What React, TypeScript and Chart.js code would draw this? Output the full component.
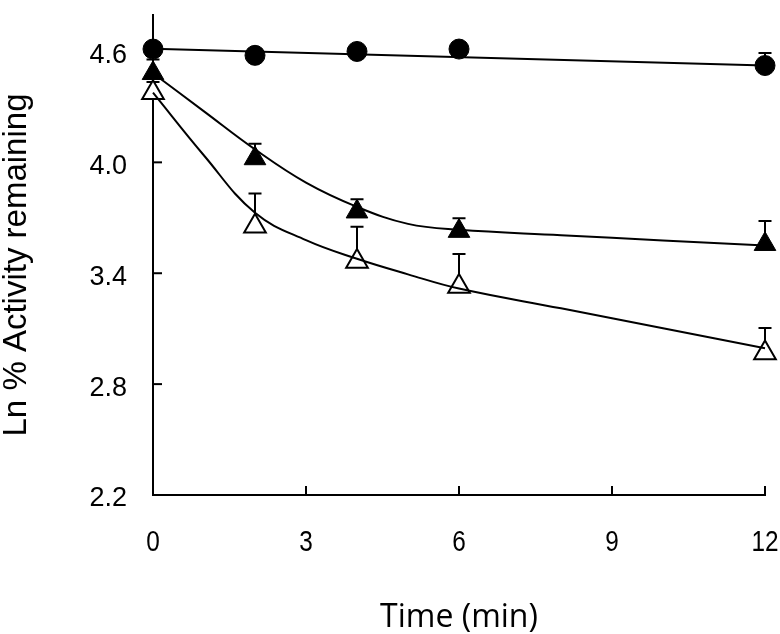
import React, { useEffect, useRef } from "react";
import { Chart, registerables } from "chart.js";

Chart.register(...registerables);

// ---- data ----
const timePoints = [0, 2, 4, 6, 12];

const controlMean = [4.613, 4.579, 4.6, 4.613, 4.524];
const controlErr = [0, 0, 0, 0, 0.067];

const filledMean = [4.482, 4.021, 3.733, 3.628, 3.557];
const filledErr = [0.074, 0.079, 0.067, 0.07, 0.126];

const openMean = [4.377, 3.654, 3.463, 3.328, 2.969];
const openErr = [0.058, 0.178, 0.189, 0.176, 0.135];

// fitted curves
const controlFitTime = [0, 12];
const controlFit = [4.615, 4.524];

const fitTime = [0, 1, 2, 3, 4, 5, 6, 8, 10, 12];
const filledFit = [4.482, 4.276, 4.07, 3.89, 3.759, 3.667, 3.635, 3.606, 3.577, 3.55];
const openFit = [4.377, 4.037, 3.727, 3.579, 3.478, 3.394, 3.317, 3.21, 3.102, 2.994];

const xTicks = [0, 3, 6, 9, 12];
const yTicks = [2.2, 2.8, 3.4, 4.0, 4.6];
const xTitle = "Time (min)";
const yTitle = "Ln % Activity remaining";

const toPoints = (xs: number[], ys: number[]) => xs.map((x, i) => ({ x, y: ys[i] }));

const errorBarPlugin = {
  id: "errorBars",
  beforeDatasetsDraw(chart: any) {
    const ctx = chart.ctx;
    const xs = chart.scales.x;
    const ys = chart.scales.y;
    ctx.save();
    ctx.strokeStyle = "#000";
    ctx.lineWidth = 2;
    chart.data.datasets.forEach((ds: any) => {
      if (!ds.errors) return;
      ds.data.forEach((p: any, i: number) => {
        const e = ds.errors[i];
        if (!e) return;
        const px = xs.getPixelForValue(p.x);
        const y0 = ys.getPixelForValue(p.y);
        const y1 = ys.getPixelForValue(p.y + e);
        ctx.beginPath();
        ctx.moveTo(px, y0);
        ctx.lineTo(px, y1);
        ctx.moveTo(px - 6.5, y1);
        ctx.lineTo(px + 6.5, y1);
        ctx.stroke();
      });
    });
    ctx.restore();
  },
};

const decorPlugin = {
  id: "decor",
  afterDraw(chart: any) {
    const ctx = chart.ctx;
    const xs = chart.scales.x;
    const ys = chart.scales.y;
    const area = chart.chartArea;
    ctx.save();
    ctx.strokeStyle = "#000";
    ctx.lineWidth = 2;
    // inward tick marks
    xTicks.forEach((v) => {
      const px = xs.getPixelForValue(v);
      ctx.beginPath();
      ctx.moveTo(px, area.bottom);
      ctx.lineTo(px, area.bottom - 9);
      ctx.stroke();
    });
    yTicks.forEach((v) => {
      const py = ys.getPixelForValue(v);
      ctx.beginPath();
      ctx.moveTo(area.left, py);
      ctx.lineTo(area.left + 9, py);
      ctx.stroke();
    });
    ctx.fillStyle = "#000";
    // x tick labels (condensed digits)
    ctx.font = '29px "Liberation Sans", Arial, sans-serif';
    ctx.textAlign = "center";
    ctx.textBaseline = "alphabetic";
    xTicks.forEach((v) => {
      const px = xs.getPixelForValue(v);
      ctx.save();
      ctx.translate(px, 551);
      ctx.scale(0.84, 1);
      ctx.fillText(String(v), 0, 0);
      ctx.restore();
    });
    // axis titles
    ctx.font = '32px "Open Sans", sans-serif';
    ctx.fillText(xTitle, (area.left + area.right) / 2, 627);
    ctx.translate(17, 265);
    ctx.rotate(-Math.PI / 2);
    ctx.font = '33px "Liberation Sans", Arial, sans-serif';
    ctx.textBaseline = "middle";
    ctx.fillText(yTitle, 0, 0);
    ctx.restore();
  },
};

const zeroPad = (scale: any) => {
  scale.paddingTop = 0;
  scale.paddingBottom = 0;
  scale.paddingLeft = 0;
  scale.paddingRight = 0;
};

export default function App() {
  const canvasRef = useRef<HTMLCanvasElement | null>(null);

  useEffect(() => {
    const canvas = canvasRef.current;
    if (!canvas) return;
    const lineBase = {
      showLine: true,
      borderColor: "#000",
      borderWidth: 2,
      pointRadius: 0,
      tension: 0.4,
      order: 0,
      clip: false,
    };
    const chart = new Chart(canvas, {
      type: "scatter",
      data: {
        datasets: [
          { ...lineBase, label: "control fit", data: toPoints(controlFitTime, controlFit), tension: 0 },
          { ...lineBase, label: "filled fit", data: toPoints(fitTime, filledFit) },
          { ...lineBase, label: "open fit", data: toPoints(fitTime, openFit) },
          {
            label: "control",
            data: toPoints(timePoints, controlMean),
            errors: controlErr,
            pointStyle: "circle",
            pointRadius: 10,
            backgroundColor: "#000",
            borderColor: "#000",
            borderWidth: 1,
            order: 1,
            clip: false,
          } as any,
          {
            label: "filled",
            data: toPoints(timePoints, filledMean),
            errors: filledErr,
            pointStyle: "triangle",
            pointRadius: 12.5,
            backgroundColor: "#000",
            borderColor: "#000",
            borderWidth: 1,
            order: 1,
            clip: false,
          } as any,
          {
            label: "open",
            data: toPoints(timePoints, openMean),
            errors: openErr,
            pointStyle: "triangle",
            pointRadius: 12.5,
            backgroundColor: "#fff",
            borderColor: "#000",
            borderWidth: 2,
            order: 1,
            clip: false,
          } as any,
        ],
      },
      options: {
        animation: false,
        responsive: false,
        maintainAspectRatio: false,
        layout: { padding: { left: 0, right: 15, top: 4, bottom: 0 } },
        plugins: {
          legend: { display: false },
          tooltip: { enabled: false },
          title: { display: false },
        },
        scales: {
          x: {
            type: "linear",
            min: 0,
            max: 12,
            afterBuildTicks: (scale: any) => {
              scale.ticks = xTicks.map((v) => ({ value: v }));
            },
            afterFit: (scale: any) => {
              scale.height = 139;
              zeroPad(scale);
            },
            grid: { display: false, drawTicks: false },
            border: { display: true, color: "#000", width: 2 },
            ticks: { display: false },
          },
          y: {
            type: "linear",
            min: 2.2,
            max: 4.8,
            afterBuildTicks: (scale: any) => {
              scale.ticks = yTicks.map((v) => ({ value: v }));
            },
            afterFit: (scale: any) => {
              scale.width = 153;
              zeroPad(scale);
            },
            grid: { display: false, drawTicks: false },
            border: { display: true, color: "#000", width: 2 },
            ticks: {
              color: "#000",
              padding: 26,
              labelOffset: 4,
              autoSkip: false,
              font: { family: '"Liberation Sans", Arial, sans-serif', size: 27 },
              callback: (v: any) => Number(v).toFixed(1),
            },
          },
        },
      },
      plugins: [errorBarPlugin, decorPlugin],
    } as any);
    return () => chart.destroy();
  }, []);

  return (
    <div style={{ position: "absolute", left: 0, top: 0, width: 780, height: 634, background: "#fff" }}>
      <canvas ref={canvasRef} width={780} height={634} style={{ display: "block" }} />
    </div>
  );
}
